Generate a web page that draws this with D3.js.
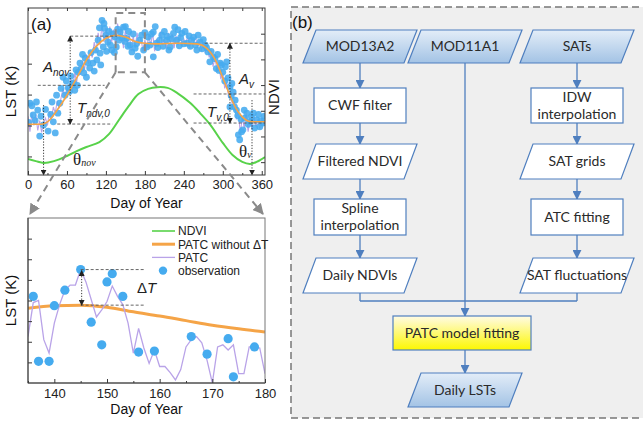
<!DOCTYPE html>
<html>
<head>
<meta charset="utf-8">
<script src="https://cdn.jsdelivr.net/npm/d3@7"></script>
<style>
  body { margin: 0; background: #fff; }
  svg { display: block; }
</style>
</head>
<body>
<svg id="fig" width="643" height="422"></svg>
<script>
// ---------------- Panel (a): annual cycle ----------------
// NDVI seasonal curve (day of year, NDVI)
const ndviDays = [0, 12, 24, 40, 60, 75, 90, 110, 125, 140, 155, 170, 185, 199, 215, 230, 250, 265, 280, 300, 315, 330, 342, 352, 365];
const ndviValues = [0.112, 0.104, 0.097, 0.104, 0.124, 0.143, 0.159, 0.178, 0.210, 0.264, 0.318, 0.365, 0.385, 0.392, 0.389, 0.369, 0.330, 0.291, 0.248, 0.175, 0.128, 0.101, 0.093, 0.101, 0.120];

// PATC without ΔT (smooth annual cycle, K)
const baseDays = [0, 20, 30, 45, 60, 75, 90, 105, 120, 135, 150, 165, 180, 200, 230, 260, 275, 290, 300, 310, 320, 330, 340, 350, 365];
const baseLST = [270.2, 270.2, 270.6, 272.5, 274.9, 277.7, 280.6, 282.8, 284.1, 284.6, 284.3, 283.6, 283.3, 283.2, 283.3, 283.2, 282.5, 280.3, 277.7, 275.1, 272.8, 271.4, 270.7, 270.6, 270.6];

// PATC with daily fluctuation, every third day (K)
const patcDays = d3.range(0, 364, 3);
const patcLST = [
  271.5, 269.0, 272.0, 270.0, 271.8, 269.2, 270.8, 268.9, 270.5, 271.2,
  270.0, 272.3, 271.0, 273.0, 272.0, 274.0, 272.8, 274.5, 276.0, 274.2,
  276.5, 275.0, 277.5, 276.0, 278.5, 277.0, 279.5, 278.2, 280.5, 279.0,
  281.5, 280.0, 282.0, 281.0, 283.5, 281.8, 285.0, 283.0, 286.5, 283.5,
  285.8, 283.0, 286.0, 283.5, 285.5, 283.0, 286.5, 284.0, 286.0, 282.5,
  285.5, 283.0, 284.8, 282.0, 284.5, 282.5, 285.0, 283.0, 284.2, 282.0,
  283.8, 282.5, 284.5, 283.0, 285.0, 282.0, 284.0, 282.8, 285.2, 283.0,
  284.0, 282.5, 285.0, 283.2, 284.8, 282.5, 284.5, 283.0, 285.0, 282.8,
  284.0, 283.0, 284.6, 282.5, 284.0, 283.5, 284.5, 282.5, 283.8, 282.0,
  283.5, 281.8, 283.0, 281.0, 282.2, 279.5, 281.0, 279.0, 279.8, 277.5,
  278.5, 276.0, 277.0, 274.5, 275.5, 273.0, 274.0, 271.0, 272.5, 268.5,
  271.5, 269.5, 272.0, 269.0, 271.2, 269.5, 271.5, 269.8, 271.0, 269.5,
  271.2, 270.0
];

// Clear-sky LST observations
const obsDays = [
  3, 8, 13, 18, 24, 31, 39, 42, 44, 49, 54, 57, 62, 70, 72, 77, 80, 88, 90, 95,
  100, 106, 111, 114, 116, 118, 123, 129, 134, 136, 142, 147, 152, 157, 160, 165, 172, 183, 185, 193,
  193, 198, 203, 213, 219, 224, 226, 229, 237, 245, 252, 260, 265, 273, 277, 280, 285, 296, 300, 306,
  308, 311, 311, 316, 319, 321, 324, 326, 331, 334, 337, 342, 347, 352, 357, 362,
  1, 6, 11, 15, 20, 27, 35, 37, 46, 51, 59, 64, 66, 68, 74, 76, 82, 84, 86, 92,
  97, 102, 104, 108, 110, 112, 117, 120, 121, 125, 127, 131, 133, 138, 140, 144, 149, 150, 154, 155,
  162, 167, 169, 175, 178, 180, 188, 190, 196, 200, 206, 208, 210, 215, 217, 221, 231, 233, 235, 240,
  242, 248, 250, 255, 258, 262, 268, 270, 275, 282, 288, 290, 292, 294, 298, 303, 304, 313, 314, 318,
  323, 328, 329, 333, 339, 344, 349, 355, 359, 364
];
const obsLST = [
  273.6, 271.7, 273.8, 268.3, 270.1, 269.1, 270.6, 268.8, 274.9, 273.6, 277.8, 274.9, 276.1, 276.9, 275.7, 278.6, 280.1, 280.9, 277.8, 279.3,
  280.1, 280.6, 281.7, 287.0, 282.7, 285.7, 283.5, 282.2, 284.3, 282.7, 285.1, 285.9, 284.1, 283.0, 281.9, 282.5, 283.8, 282.7, 284.3, 281.1,
  285.1, 283.3, 283.8, 283.8, 282.7, 284.9, 285.9, 283.8, 284.9, 283.3, 283.8, 282.2, 283.5, 283.0, 281.9, 280.3, 281.1, 280.1, 278.6, 280.3,
  277.7, 276.2, 273.0, 275.4, 274.1, 272.5, 268.5, 267.7, 269.3, 271.2, 272.0, 270.6, 272.0, 270.9, 269.8, 270.4,
  270.5, 273.2, 270.8, 272.5, 271.5, 272.6, 271.8, 273.8, 272.0, 276.0, 277.2, 275.5, 278.0, 276.6, 279.0, 276.5, 279.2, 281.5, 278.5, 280.2,
  281.8, 278.8, 282.2, 283.8, 285.8, 279.8, 286.5, 284.6, 282.0, 285.2, 283.0, 284.8, 281.8, 285.6, 283.8, 284.2, 283.6, 286.0, 282.8, 285.2,
  284.8, 283.2, 281.2, 284.6, 282.2, 285.0, 283.0, 284.8, 286.0, 282.6, 284.6, 282.8, 285.2, 284.4, 282.2, 284.0, 285.5, 282.9, 284.2, 283.2,
  285.2, 284.5, 282.8, 284.3, 283.0, 284.6, 282.4, 283.9, 282.6, 282.0, 280.8, 279.2, 281.5, 278.9, 279.8, 277.2, 279.5, 274.8, 276.8, 273.0,
  271.6, 271.0, 269.0, 272.5, 270.2, 271.4, 269.6, 271.8, 270.8, 271.5
];

// ---------------- Panel (a): days 135-180 in detail ----------------
const zoomDays = d3.range(135, 181);
const zoomPATC = [
  276.5, 279.8, 280.0, 276.2, 274.9, 277.8, 279.6, 281.0, 281.5, 281.5,
  283.0, 281.8, 280.1, 278.4, 279.1, 279.9, 281.4, 280.4, 279.6, 277.8,
  274.9, 277.3, 275.4, 273.9, 275.2, 273.6, 273.6, 273.0, 272.3, 273.3,
  275.5, 276.2, 276.5, 275.9, 274.2, 272.0, 275.5, 275.7, 275.2, 275.7,
  272.9, 272.9, 275.5, 275.5, 275.4, 272.9
];
const zoomBaseDays = [135, 140, 145, 150, 155, 160, 165, 170, 175, 180];
const zoomBaseLST = [279.25, 279.5, 279.55, 279.35, 278.9, 278.5, 278.05, 277.6, 277.25, 276.95];
const zoomObsDays = [136, 137, 139, 140, 142, 145, 147, 149, 150, 151, 153, 156, 159, 166, 169, 173, 174, 178];
const zoomObsLST = [280.4, 274.1, 274.1, 279.5, 281.0, 283.0, 277.9, 275.7, 281.8, 282.6, 280.4, 275.0, 275.1, 276.5, 274.8, 276.3, 272.6, 275.5];

// tick values
const yearTicks = [0, 60, 120, 180, 240, 300, 360];
const yearMinor = [30, 90, 150, 210, 270, 330];
const yearLSTTicks = [265, 270, 275, 280, 285];
const ndviTicks = [0.1, 0.2, 0.3, 0.4, 0.5, 0.6];
const zoomTicks = [140, 150, 160, 170, 180];
const zoomMinor = [135, 145, 155, 165, 175];
const zoomLSTTicks = [274, 276, 278, 280, 282, 284, 286];

// legend entries
const legendNames = ["NDVI", "PATC without ΔT", "PATC", "observation"];

// ---------------- Panel (b): workflow ----------------
const flowInputs = ["MOD13A2", "MOD11A1", "SATs"];
const ndviSteps = [["CWF filter"], ["Filtered NDVI"], ["Spline", "interpolation"], ["Daily NDVIs"]];
const satSteps = [["IDW", "interpolation"], ["SAT grids"], ["ATC fitting"], ["SAT fluctuations"]];
const modelStep = "PATC model fitting";
const outputStep = "Daily LSTs";

// ---------------- styles ----------------
const C = {
  green: "#58d24a",
  orange: "#f5a447",
  purple: "#b9a3e8",
  dot: "#45abef",
  axis: "#3a3a3a",
  guide: "#555",
  zoom: "#8a8a8a",
  flow: "#4f7fbf"
};
const SANS = "'Liberation Sans', Arial, sans-serif";
const SERIF = "'Liberation Serif', 'Times New Roman', serif";
const FLOWFONT = "Lato, 'Open Sans', sans-serif";

const svg = d3.select("#fig");
const defs = svg.append("defs");

function marker(id, color, size) {
  defs.append("marker")
    .attr("id", id)
    .attr("viewBox", "0 0 10 10")
    .attr("refX", 9).attr("refY", 5)
    .attr("markerUnits", "userSpaceOnUse")
    .attr("markerWidth", size).attr("markerHeight", size)
    .attr("orient", "auto-start-reverse")
    .append("path").attr("d", "M0,0 L10,5 L0,10 z").attr("fill", color);
}
marker("arrGray", C.zoom, 11);
marker("arrDark", "#222", 6);
marker("arrBlue", C.flow, 9);

// ===== top chart =====
const A = { l: 28, r: 265, t: 8, b: 175 };
const xA = d3.scaleLinear().domain([0, 365]).range([A.l, A.r]);
const yA = d3.scaleLinear().domain([262, 289]).range([A.b, A.t]);
const yN = d3.scaleLinear().domain([0.05, 0.70]).range([A.b, A.t]);

defs.append("clipPath").attr("id", "clipA")
  .append("rect").attr("x", A.l).attr("y", A.t).attr("width", A.r - A.l).attr("height", A.b - A.t);

const gA = svg.append("g");
const plotA = gA.append("g").attr("clip-path", "url(#clipA)");

plotA.append("path")
  .attr("d", d3.line().x((d, i) => xA(ndviDays[i])).y(d => yN(d)).curve(d3.curveCatmullRom)(ndviValues))
  .attr("fill", "none").attr("stroke", C.green).attr("stroke-width", 2);

plotA.append("path")
  .attr("d", d3.line().x((d, i) => xA(patcDays[i])).y(d => yA(d))(patcLST))
  .attr("fill", "none").attr("stroke", C.purple).attr("stroke-width", 1.1);

plotA.selectAll("circle.obs").data(obsLST).join("circle")
  .attr("class", "obs")
  .attr("cx", (d, i) => xA(obsDays[i])).attr("cy", d => yA(d))
  .attr("r", 3.4).attr("fill", C.dot).attr("fill-opacity", 0.88);

plotA.append("path")
  .attr("d", d3.line().x((d, i) => xA(baseDays[i])).y(d => yA(d)).curve(d3.curveMonotoneX)(baseLST))
  .attr("fill", "none").attr("stroke", C.orange).attr("stroke-width", 1.6);

// guide lines for the model parameters
function hGuide(g, x, y, d0, d1, v) {
  g.append("line").attr("x1", x(d0)).attr("x2", x(d1)).attr("y1", y(v)).attr("y2", y(v))
    .attr("stroke", C.guide).attr("stroke-width", 0.9).attr("stroke-dasharray", "3,2");
}
function vArrow(g, xp, y0, y1, both) {
  const l = g.append("line").attr("x1", xp).attr("x2", xp).attr("y1", y0).attr("y2", y1)
    .attr("stroke", "#222").attr("stroke-width", 0.9).attr("stroke-dasharray", "1.2,1.6")
    .attr("marker-end", "url(#arrDark)");
  if (both) l.attr("marker-start", "url(#arrDark)");
}
const guides = gA.append("g");
hGuide(guides, xA, yA, 65, 137, 284.45);
hGuide(guides, xA, yA, 15, 118, 276.5);
hGuide(guides, xA, yA, 45, 130, 270.24);
vArrow(guides, xA(65), yA(284.45), yA(270.24), true);
vArrow(guides, xA(24), yA(273.3), A.b, false);
hGuide(guides, xA, yA, 272, 365, 283.3);
hGuide(guides, xA, yA, 255, 365, 275.1);
hGuide(guides, xA, yA, 255, 365, 270.4);
vArrow(guides, xA(311), yA(283.3), yA(270.4), true);
vArrow(guides, xA(345), yA(274.1), A.b, false);

// parameter labels
function symbol(g, x, y, main, sub, serif) {
  const t = g.append("text").attr("x", x).attr("y", y).attr("fill", "#222");
  t.append("tspan").text(main)
    .attr("font-family", serif ? SERIF : SANS)
    .attr("font-style", serif ? "normal" : "italic")
    .attr("font-size", serif ? 17 : 15);
  t.append("tspan").text(sub).attr("dy", serif ? 1 : 4)
    .attr("font-family", serif ? SERIF : SANS)
    .attr("font-style", "italic").attr("font-size", 10);
}
symbol(gA, 43, 72, "A", "nov", false);
symbol(gA, 77, 113, "T", "ndv,0", false);
symbol(gA, 239, 84, "A", "v", false);
symbol(gA, 207, 117, "T", "v,0", false);
symbol(gA, 73, 165, "θ", "nov", true);
symbol(gA, 239, 157, "θ", "v", true);

// frame and axes
gA.append("rect").attr("x", A.l).attr("y", A.t).attr("width", A.r - A.l).attr("height", A.b - A.t)
  .attr("fill", "none").attr("stroke", C.axis).attr("stroke-width", 1);

function styleAxis(sel, size) {
  sel.select(".domain").remove();
  sel.selectAll(".tick line").attr("stroke", C.axis);
  sel.selectAll("text").attr("font-family", SANS).attr("font-size", size).attr("fill", "#222");
}
gA.append("g").attr("transform", `translate(0,${A.b})`)
  .call(d3.axisBottom(xA).tickValues(yearTicks).tickSizeInner(-4).tickSizeOuter(0).tickPadding(5))
  .call(s => styleAxis(s, 13));
gA.append("g").attr("transform", `translate(0,${A.b})`)
  .call(d3.axisBottom(xA).tickValues(yearMinor).tickSizeInner(-2).tickSizeOuter(0).tickFormat(""))
  .call(s => styleAxis(s, 13));
gA.append("g").attr("transform", `translate(0,${A.t})`)
  .call(d3.axisTop(xA).tickValues(yearTicks.concat(yearMinor)).tickSizeInner(-3).tickSizeOuter(0).tickFormat(""))
  .call(s => styleAxis(s, 13));
gA.append("g").attr("transform", `translate(${A.l},0)`)
  .call(d3.axisLeft(yA).tickValues(yearLSTTicks).tickSizeInner(-4).tickSizeOuter(0).tickFormat(""))
  .call(s => styleAxis(s, 13));
gA.append("g").attr("transform", `translate(${A.r},0)`)
  .call(d3.axisRight(yN).tickValues(ndviTicks).tickSizeInner(-4).tickSizeOuter(0).tickFormat(""))
  .call(s => styleAxis(s, 13));

gA.append("text").attr("x", 31).attr("y", 30).text("(a)")
  .attr("font-family", SANS).attr("font-size", 17).attr("fill", "#111");
gA.append("text").attr("transform", `translate(16,${(A.t + A.b) / 2}) rotate(-90)`)
  .attr("text-anchor", "middle").text("LST (K)")
  .attr("font-family", SANS).attr("font-size", 15).attr("fill", "#111");
gA.append("text").attr("transform", `translate(279,97) rotate(-90)`)
  .attr("text-anchor", "middle").text("NDVI")
  .attr("font-family", SANS).attr("font-size", 15).attr("fill", "#111");
gA.append("text").attr("x", (A.l + A.r) / 2).attr("y", 208).attr("text-anchor", "middle")
  .text("Day of Year").attr("font-family", SANS).attr("font-size", 14).attr("fill", "#111");

// ===== detail chart (days 135-180) =====
const B = { l: 28, r: 265, t: 218, b: 383 };
const xB = d3.scaleLinear().domain([135, 180]).range([B.l, B.r]);
const yB = d3.scaleLinear().domain([272, 288]).range([B.b, B.t]);

// magnified window and its connectors
const win = { d0: 135, d1: 180, v0: 278.6, v1: 288.2 };
const zoomG = svg.append("g");
zoomG.append("path")
  .attr("d", `M${xA(win.d0)},${yA(win.v0)} V${yA(win.v1)} H${xA(win.d1)} V${yA(win.v0)} Z`)
  .attr("fill", "none").attr("stroke", C.zoom).attr("stroke-width", 2).attr("stroke-dasharray", "7,5");
zoomG.append("line").attr("x1", xA(win.d0)).attr("y1", yA(win.v0)).attr("x2", B.l + 2).attr("y2", B.t - 4)
  .attr("stroke", C.zoom).attr("stroke-width", 2).attr("stroke-dasharray", "7,5").attr("marker-end", "url(#arrGray)");
zoomG.append("line").attr("x1", xA(win.d1)).attr("y1", yA(win.v0)).attr("x2", B.r - 2).attr("y2", B.t - 4)
  .attr("stroke", C.zoom).attr("stroke-width", 2).attr("stroke-dasharray", "7,5").attr("marker-end", "url(#arrGray)");

defs.append("clipPath").attr("id", "clipB")
  .append("rect").attr("x", B.l).attr("y", B.t).attr("width", B.r - B.l).attr("height", B.b - B.t);
const gB = svg.append("g");
const plotB = gB.append("g").attr("clip-path", "url(#clipB)");

plotB.append("path")
  .attr("d", d3.line().x((d, i) => xB(zoomBaseDays[i])).y(d => yB(d)).curve(d3.curveMonotoneX)(zoomBaseLST))
  .attr("fill", "none").attr("stroke", C.orange).attr("stroke-width", 3);
plotB.append("path")
  .attr("d", d3.line().x((d, i) => xB(zoomDays[i])).y(d => yB(d))(zoomPATC))
  .attr("fill", "none").attr("stroke", C.purple).attr("stroke-width", 1.3);
plotB.selectAll("circle.obs").data(zoomObsLST).join("circle")
  .attr("class", "obs")
  .attr("cx", (d, i) => xB(zoomObsDays[i])).attr("cy", d => yB(d))
  .attr("r", 4.6).attr("fill", C.dot);

// ΔT marker at the day-145 peak
const peakDay = 145;
const peakObs = zoomObsLST[zoomObsDays.indexOf(peakDay)];
const peakBase = zoomBaseLST[zoomBaseDays.indexOf(peakDay)];
hGuide(gB, xB, yB, peakDay, 157, peakObs);
hGuide(gB, xB, yB, peakDay, 157, peakBase);
vArrow(gB, xB(peakDay) + 1, yB(peakObs) + 1, yB(peakBase), true);
const dT = gB.append("text").attr("x", 137).attr("y", 293).attr("fill", "#222")
  .attr("font-family", SANS).attr("font-size", 15);
dT.append("tspan").text("Δ");
dT.append("tspan").text("T").attr("font-style", "italic");

gB.append("rect").attr("x", B.l).attr("y", B.t).attr("width", B.r - B.l).attr("height", B.b - B.t)
  .attr("fill", "none").attr("stroke", "#777").attr("stroke-width", 1);
gB.append("line").attr("x1", B.l).attr("x2", B.l).attr("y1", B.t).attr("y2", B.b).attr("stroke", C.axis);
gB.append("line").attr("x1", B.l).attr("x2", B.r).attr("y1", B.b).attr("y2", B.b).attr("stroke", C.axis);

gB.append("g").attr("transform", `translate(0,${B.b})`)
  .call(d3.axisBottom(xB).tickValues(zoomTicks).tickSizeInner(-4).tickSizeOuter(0).tickPadding(6))
  .call(s => styleAxis(s, 13));
gB.append("g").attr("transform", `translate(0,${B.b})`)
  .call(d3.axisBottom(xB).tickValues(zoomMinor).tickSizeInner(-2).tickSizeOuter(0).tickFormat(""))
  .call(s => styleAxis(s, 13));
gB.append("g").attr("transform", `translate(${B.l},0)`)
  .call(d3.axisLeft(yB).tickValues(zoomLSTTicks).tickSizeInner(-4).tickSizeOuter(0).tickFormat(""))
  .call(s => styleAxis(s, 13));

gB.append("text").attr("transform", `translate(16,${(B.t + B.b) / 2}) rotate(-90)`)
  .attr("text-anchor", "middle").text("LST (K)")
  .attr("font-family", SANS).attr("font-size", 15).attr("fill", "#111");
gB.append("text").attr("x", (B.l + B.r) / 2).attr("y", 414).attr("text-anchor", "middle")
  .text("Day of Year").attr("font-family", SANS).attr("font-size", 14).attr("fill", "#111");

// legend
const legendColors = [C.green, C.orange, C.purple, C.dot];
const legendWidths = [1.6, 3, 1.3, 0];
const leg = gB.append("g").attr("transform", "translate(152,231)");
legendNames.forEach((name, i) => {
  const row = leg.append("g").attr("transform", `translate(0,${i * 13.2})`);
  if (i < 3) {
    row.append("line").attr("x1", 0).attr("x2", 23).attr("y1", 0).attr("y2", 0)
      .attr("stroke", legendColors[i]).attr("stroke-width", legendWidths[i]);
  } else {
    row.append("circle").attr("cx", 11).attr("cy", 0).attr("r", 4.2).attr("fill", legendColors[i]);
  }
  row.append("text").attr("x", 26).attr("y", 4.3).text(name)
    .attr("font-family", SANS).attr("font-size", 12).attr("fill", "#222");
});

// ===== panel (b): workflow =====
const gF = svg.append("g");
gF.append("rect").attr("x", 291).attr("y", 7).attr("width", 370).attr("height", 411)
  .attr("fill", "#efefef").attr("stroke", "#777").attr("stroke-width", 1.5).attr("stroke-dasharray", "7,4");

const blueGrad = defs.append("linearGradient").attr("id", "gBlue").attr("x1", 0).attr("y1", 0).attr("x2", 0).attr("y2", 1);
blueGrad.append("stop").attr("offset", "0%").attr("stop-color", "#e3edf8");
blueGrad.append("stop").attr("offset", "100%").attr("stop-color", "#a3c3e5");
const yellowGrad = defs.append("linearGradient").attr("id", "gYellow").attr("x1", 0).attr("y1", 0).attr("x2", 0).attr("y2", 1);
yellowGrad.append("stop").attr("offset", "0%").attr("stop-color", "#fffbe6");
yellowGrad.append("stop").attr("offset", "100%").attr("stop-color", "#fdf700");

const colX = [360, 465, 577];
const rowTop = { input: 30, s0: 88, s1: 144, s2: 199, s3: 258, model: 316, output: 373 };

function para(cx, y, h, lines, fill) {
  const w = 101, s = 13;
  const pts = [[cx - w / 2 + s / 2, y], [cx + w / 2 + s / 2, y], [cx + w / 2 - s / 2, y + h], [cx - w / 2 - s / 2, y + h]];
  gF.append("polygon").attr("points", pts.map(p => p.join(",")).join(" "))
    .attr("fill", fill).attr("stroke", C.flow).attr("stroke-width", 1.2);
  label(cx, y + h / 2, lines);
}
function box(cx, y, w, h, lines, fill) {
  gF.append("rect").attr("x", cx - w / 2).attr("y", y).attr("width", w).attr("height", h)
    .attr("fill", fill).attr("stroke", C.flow).attr("stroke-width", 1.2);
  label(cx, y + h / 2, lines);
}
function label(cx, cy, lines) {
  const lh = 17;
  lines.forEach((ln, i) => {
    gF.append("text").attr("x", cx).attr("y", cy + (i - (lines.length - 1) / 2) * lh)
      .attr("dy", "0.35em").attr("text-anchor", "middle").text(ln)
      .attr("font-family", FLOWFONT).attr("font-size", 14).attr("fill", "#2a2a2a");
  });
}
function link(x1, y1, x2, y2, arrow) {
  const l = gF.append("line").attr("x1", x1).attr("y1", y1).attr("x2", x2).attr("y2", y2)
    .attr("stroke", C.flow).attr("stroke-width", 1.3);
  if (arrow) l.attr("marker-end", "url(#arrBlue)");
}

const ioH = 33, stepH = 35;
// connectors first so boxes sit on top
[0, 2].forEach(c => {
  const x = colX[c];
  link(x, rowTop.input + ioH, x, rowTop.s0, true);
  link(x, rowTop.s0 + stepH, x, rowTop.s1, true);
  link(x, rowTop.s1 + stepH, x, rowTop.s2, true);
  link(x, rowTop.s2 + 36, x, rowTop.s3, true);
  link(x, rowTop.s3 + stepH, x, 301, false);
});
link(colX[0], 301, colX[2], 301, false);
link(colX[1], rowTop.input + ioH, colX[1], rowTop.model, true);
link(colX[1], rowTop.model + 34, colX[1], rowTop.output, true);

flowInputs.forEach((name, i) => para(colX[i], rowTop.input, ioH, [name], "url(#gBlue)"));
[ndviSteps, satSteps].forEach((steps, k) => {
  const cx = colX[k === 0 ? 0 : 2];
  box(cx, rowTop.s0, 92, stepH, steps[0], "#fff");
  para(cx, rowTop.s1, stepH, steps[1], "#fff");
  box(cx, rowTop.s2, 92, 36, steps[2], "#fff");
  para(cx, rowTop.s3, stepH, steps[3], "#fff");
});
box(colX[1] - 3, rowTop.model, 138, 34, [modelStep], "url(#gYellow)");
para(colX[1], rowTop.output, 34, [outputStep], "url(#gBlue)");

gF.append("text").attr("x", 292).attr("y", 28).text("(b)")
  .attr("font-family", SANS).attr("font-size", 17).attr("fill", "#111");
</script>
</body>
</html>
